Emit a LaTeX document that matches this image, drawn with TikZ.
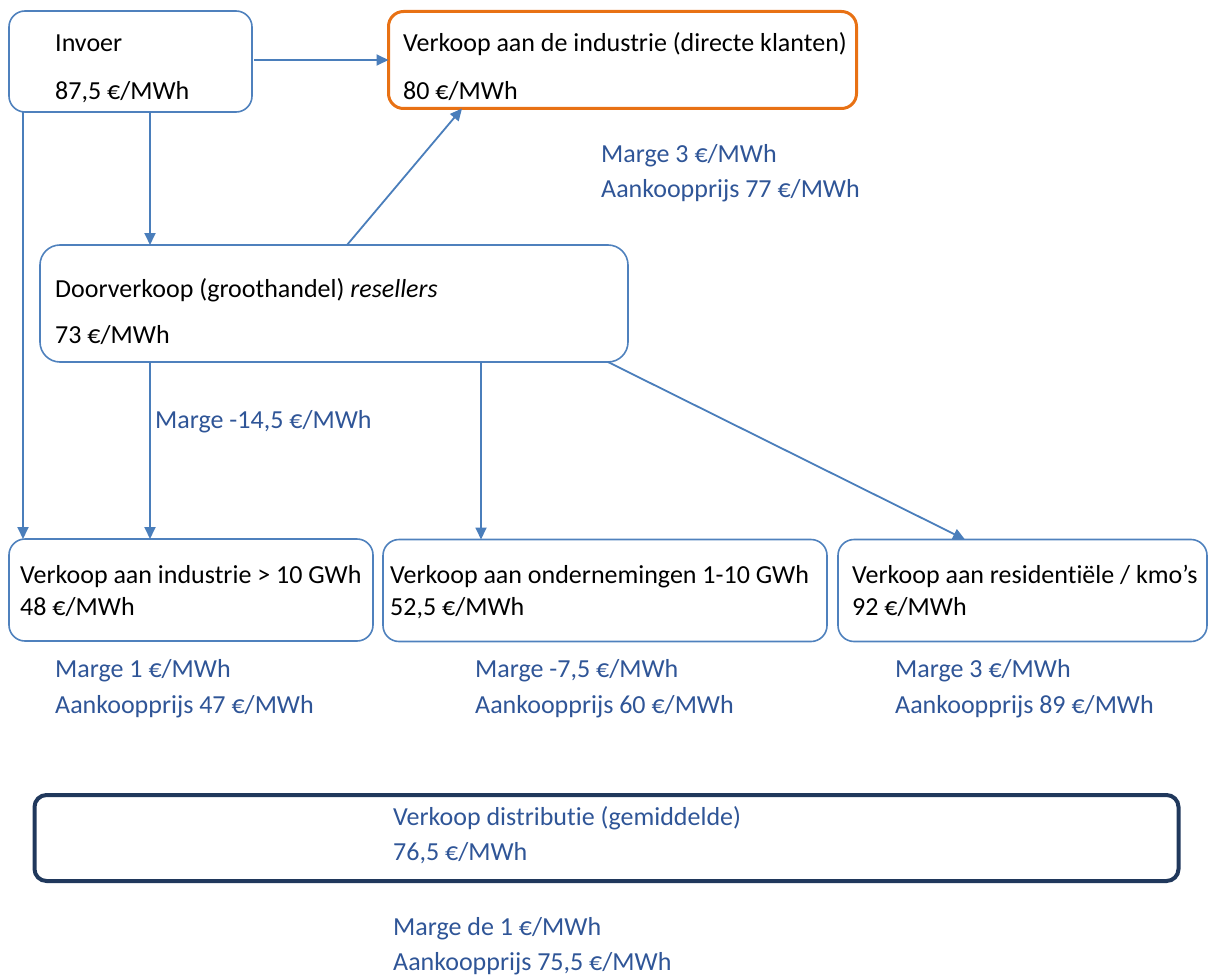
\documentclass[tikz,border=0pt]{standalone}
\usepackage{fontspec}
\setmainfont{Carlito}[Ligatures=NoCommon]
\usetikzlibrary{arrows.meta}
\definecolor{boxblue}{RGB}{79,129,189}
\definecolor{arrblue}{RGB}{74,126,187}
\definecolor{lblblue}{RGB}{47,85,151}
\definecolor{orng}{RGB}{232,113,20}
\definecolor{navy}{RGB}{32,56,92}
\begin{document}
\begin{tikzpicture}[x=1pt,y=-1pt,
  font=\fontsize{26}{31}\selectfont,
  box/.style={draw=boxblue, line width=1.6pt, rounded corners=16pt, inner sep=0pt, outer sep=0pt},
  arr/.style={draw=arrblue, line width=1.8pt, -{Triangle[length=12pt,width=11pt]}},
  txt/.style={anchor=base west, inner sep=0pt, text=black},
  lbl/.style={anchor=base west, inner sep=0pt, text=lblblue}]
\path[use as bounding box] (0,0) rectangle (1210,979);

% boxes
\node[box, minimum width=243pt, minimum height=101pt] (invoer) at (130.5,61.5) {};
\node[box, draw=orng, line width=3pt, rounded corners=15pt, minimum width=468pt, minimum height=97pt] (direct) at (622.5,60) {};
\node[box, rounded corners=20pt, minimum width=588pt, minimum height=117pt] (door) at (334,303.5) {};
\node[box, minimum width=364pt, minimum height=102pt] (ind) at (191,590) {};
\node[box, minimum width=444pt, minimum height=102pt] (ond) at (605,590.5) {};
\node[box, minimum width=369pt, minimum height=102pt] (res) at (1022.5,590.5) {};
\node[box, draw=navy, line width=4pt, rounded corners=12pt, minimum width=1144pt, minimum height=86pt] (dist) at (606.5,838) {};

% box texts
\node[txt] (t1) at (55,52) {Invoer};
\node[txt] (t2) at (55,100) {87,5 €/MWh};
\node[txt] (t3) at (403,52) {Verkoop aan de industrie (directe klanten)};
\node[txt] (t4) at (403,100) {80 €/MWh};
\node[txt] (t5) at (55,297) {Doorverkoop (groothandel) \textit{resellers}};
\node[txt] (t6) at (55,343) {73 €/MWh};
\node[txt] (t7) at (20,583) {Verkoop aan industrie > 10 GWh};
\node[txt] (t8) at (20,615) {48 €/MWh};
\node[txt] (t9) at (390,583) {Verkoop aan ondernemingen 1-10 GWh};
\node[txt] (t10) at (390,615) {52,5 €/MWh};
\node[txt] (t11) at (852,583) {Verkoop aan residentiële / kmo’s};
\node[txt] (t12) at (852,615) {92 €/MWh};
\node[lbl] (t13) at (393,825) {Verkoop distributie (gemiddelde)};
\node[lbl] (t14) at (393,860) {76,5 €/MWh};

% labels
\node[lbl] (l1) at (601,162) {Marge 3 €/MWh};
\node[lbl] (l2) at (601,197) {Aankoopprijs 77 €/MWh};
\node[lbl] (l3) at (155,428) {Marge -14,5 €/MWh};
\node[lbl] (l4) at (55,677) {Marge 1 €/MWh};
\node[lbl] (l5) at (55,713) {Aankoopprijs 47 €/MWh};
\node[lbl] (l6) at (475,677) {Marge -7,5 €/MWh};
\node[lbl] (l7) at (475,713) {Aankoopprijs 60 €/MWh};
\node[lbl] (l8) at (895,677) {Marge 3 €/MWh};
\node[lbl] (l9) at (895,713) {Aankoopprijs 89 €/MWh};
\node[lbl] (l10) at (393,935) {Marge de 1 €/MWh};
\node[lbl] (l11) at (393,970) {Aankoopprijs 75,5 €/MWh};

% connectors
\draw[arr, shorten <=2pt] (invoer.east |- direct.west) -- (direct.west);
\draw[arr] ([xshift=19.5pt]invoer.south) -- ([xshift=19.5pt]invoer.south |- door.north);
\draw[arr] ([xshift=-107.5pt]invoer.south) -- ([xshift=-107.5pt]invoer.south |- ind.north);
\draw[arr] ([xshift=13pt]door.north) -- ([xshift=-160.5pt]direct.south);
\draw[arr] ([xshift=-184pt]door.south) -- ([xshift=-184pt]door.south |- ind.north);
\draw[arr] ([xshift=147pt]door.south) -- ([xshift=147pt]door.south |- ond.north);
\draw[arr] ([xshift=274pt]door.south) -- ([xshift=-57.5pt]res.north);
\end{tikzpicture}
\end{document}
